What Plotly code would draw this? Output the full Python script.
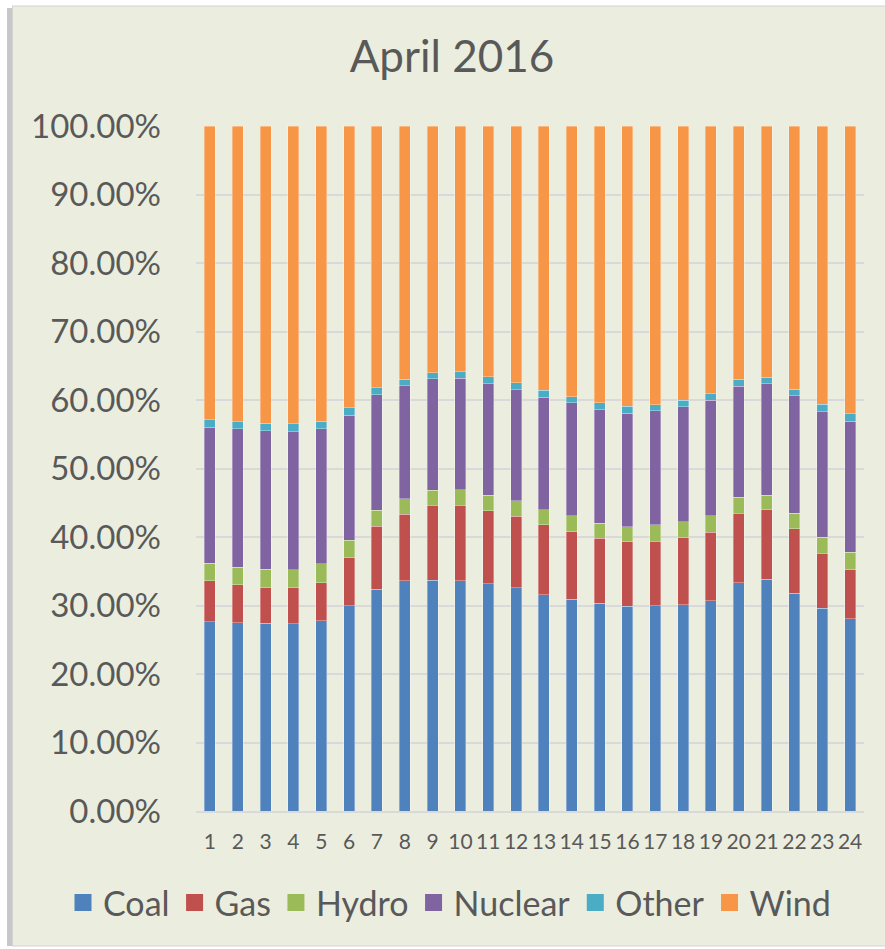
import plotly.graph_objects as go

hours = [str(i) for i in range(1, 25)]

coal = [27.6, 27.45, 27.4, 27.35, 27.8, 30.0, 32.4, 33.6, 33.7, 33.6, 33.2, 32.6,
        31.6, 30.9, 30.3, 29.9, 30.0, 30.1, 30.7, 33.3, 33.8, 31.8, 29.6, 28.1]
gas = [6.0, 5.55, 5.2, 5.25, 5.5, 7.0, 9.2, 9.7, 10.9, 11.0, 10.6, 10.4,
       10.2, 9.9, 9.5, 9.4, 9.4, 9.8, 10.0, 10.2, 10.2, 9.4, 8.0, 7.1]
hydro = [2.6, 2.6, 2.7, 2.6, 2.8, 2.5, 2.3, 2.3, 2.2, 2.3, 2.3, 2.3,
         2.2, 2.3, 2.2, 2.2, 2.4, 2.3, 2.4, 2.3, 2.1, 2.3, 2.4, 2.6]
nuclear = [19.8, 20.2, 20.2, 20.2, 19.7, 18.3, 16.9, 16.5, 16.3, 16.3, 16.3, 16.2,
           16.4, 16.5, 16.6, 16.6, 16.6, 16.8, 16.9, 16.2, 16.3, 17.1, 18.3, 19.1]
other = [1.1, 1.0, 1.1, 1.1, 1.1, 1.1, 1.0, 0.9, 0.9, 0.9, 1.0, 1.0,
         1.0, 0.9, 1.0, 1.0, 0.9, 1.0, 0.9, 1.0, 0.9, 1.0, 1.1, 1.1]
wind = [42.9, 43.2, 43.4, 43.5, 43.1, 41.1, 38.2, 37.0, 36.0, 35.9, 36.6, 37.5,
        38.6, 39.5, 40.4, 40.9, 40.7, 40.0, 39.1, 37.0, 36.7, 38.4, 40.6, 42.0]

series_names = ["Coal", "Gas", "Hydro", "Nuclear", "Other", "Wind"]
series_values = [coal, gas, hydro, nuclear, other, wind]
series_colors = ["#4F81BD", "#C0504D", "#9BBB59", "#8064A2", "#4BACC6", "#F79646"]

y_ticks = list(range(0, 101, 10))

W, H = 885, 949
L, R, T, B = 196, 21, 126, 138
PW, PH = W - L - R, H - T - B

def px(x):
    return (x - L) / PW

def py(y):
    return (H - B - y) / PH

FONT = "Lato"
TXT = "#595959"

fig = go.Figure()
for name, vals, col in zip(series_names, series_values, series_colors):
    fig.add_trace(go.Bar(
        x=hours, y=vals, name=name, legendgroup=name, showlegend=False,
        marker=dict(color=col, line=dict(color="rgba(255,255,255,0.45)", width=0.7)),
    ))
# legend entries (larger square keys, no data drawn)
for name, col in zip(series_names, series_colors):
    fig.add_trace(go.Bar(
        x=[None], y=[None], name=name, legendgroup=name, showlegend=True,
        marker=dict(color=col, line=dict(color=col, width=5)),
        hoverinfo="skip",
    ))

fig.update_layout(
    width=W, height=H,
    barmode="stack", bargap=0.6,
    paper_bgcolor="white", plot_bgcolor="rgba(0,0,0,0)",
    margin=dict(l=L, r=R, t=T, b=B, pad=0, autoexpand=False),
    font=dict(family=FONT, color=TXT),
    title=dict(text="April 2016", font=dict(size=44, color=TXT, family=FONT),
               x=452 / W, xref="container", xanchor="center",
               y=1 - 57 / H, yref="container", yanchor="middle"),
    legend=dict(orientation="h", xref="paper", yref="paper",
                x=px(63), xanchor="left", y=py(903), yanchor="middle",
                font=dict(size=34, color=TXT, family=FONT),
                bgcolor="rgba(0,0,0,0)", traceorder="normal",
                itemclick=False, itemdoubleclick=False),
    showlegend=True,
    shapes=[
        dict(type="rect", xref="paper", yref="paper", layer="below",
             x0=px(7), x1=px(12.5), y0=py(946), y1=py(8),
             fillcolor="rgba(0,0,0,0.22)", line=dict(width=0)),
        dict(type="rect", xref="paper", yref="paper", layer="below",
             x0=px(12.5), x1=px(886), y0=py(946), y1=py(6),
             fillcolor="#EBEEDF", line=dict(color="#D4D4D4", width=1.2)),
    ],
)

fig.update_xaxes(type="category", showgrid=False, showline=True,
                 linecolor="#D9D9D9", linewidth=2, ticks="",
                 tickfont=dict(size=21, color=TXT, family=FONT),
                 ticklabelstandoff=11)
fig.update_yaxes(range=[0, 100], tickvals=y_ticks,
                 ticktext=[f"{v:.2f}%" for v in y_ticks],
                 showgrid=True, gridcolor="#D9D9D9", gridwidth=2,
                 zeroline=False, showline=False, ticks="",
                 tickfont=dict(size=33, color=TXT, family=FONT),
                 ticklabelstandoff=34)

fig.write_html("out.html", config={"displayModeBar": False},
               post_script="document.body.style.margin='0px';")
